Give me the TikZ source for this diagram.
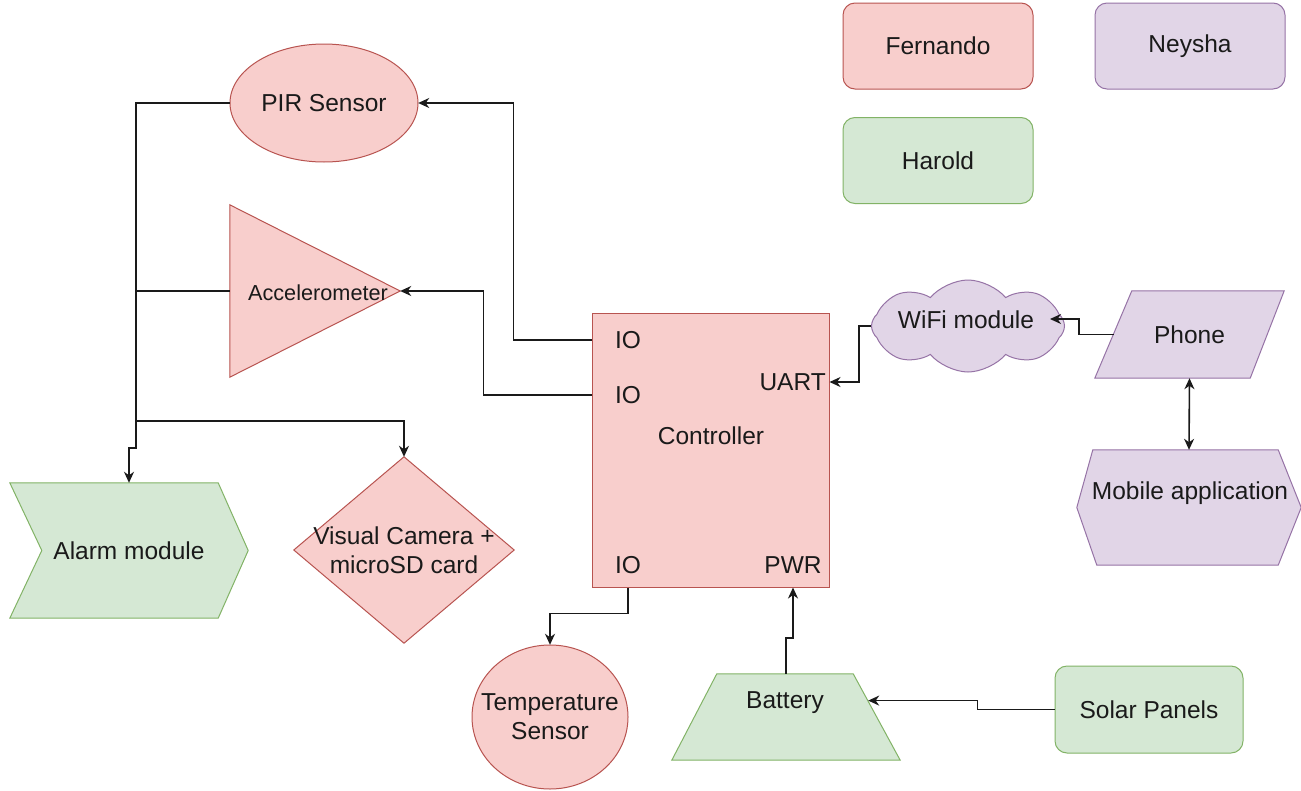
\documentclass[tikz,border=0pt]{standalone}
\usepackage{fontspec}
\setmainfont{Liberation Sans}
\usetikzlibrary{shapes.symbols,calc,arrows.meta,backgrounds}
\definecolor{rfill}{HTML}{F8CECC}
\definecolor{rline}{HTML}{B85450}
\definecolor{gfill}{HTML}{D5E8D4}
\definecolor{gline}{HTML}{82B366}
\definecolor{pfill}{HTML}{E1D5E7}
\definecolor{pline}{HTML}{9673A6}
\definecolor{ink}{HTML}{1A1A1A}
\begin{document}
\begin{tikzpicture}[x=1pt,y=-1pt,
  every node/.style={font=\fontsize{24.5}{29}\selectfont, text=ink, inner sep=0pt},
  redc/.style={fill=rfill, draw=rline, line width=1pt},
  grnc/.style={fill=gfill, draw=gline, line width=1pt},
  purc/.style={fill=pfill, draw=pline, line width=1pt},
  legend/.style={rectangle, rounded corners=12pt, minimum width=190pt, minimum height=86pt},
  conn/.style={draw=ink, line width=1.6pt},
  arr/.style={conn, -{Stealth[length=11pt,width=10pt,inset=3.5pt]}},
  darr/.style={conn, {Stealth[length=11pt,width=10pt,inset=3.5pt]}-{Stealth[length=11pt,width=10pt,inset=3.5pt]}},
]
\useasboundingbox (0,0) rectangle (1301,790);
\begin{scope}[on background layer]
  \fill[white] (0,0) rectangle (1301,790);
\end{scope}

% legend
\node[legend, redc] (fern) at (938,46) {Fernando};
\node[legend, purc] (neys) at (1190,46) {Neysha};
\node[legend, grnc] (harold) at (938,160.5) {Harold};

% controller
\node[rectangle, redc, minimum width=237pt, minimum height=274pt] (ctrl) at (710.5,450) {};
\node (ctrlt) at (711,436) {Controller};
\node (io1) at (628,340) {IO};
\node (io2) at (628,395) {IO};
\node (io3) at (628,565) {IO};
\node[anchor=east] (uart) at (826,382) {UART};
\node (pwr) at (793,565) {PWR};

% left side
\node[minimum width=188pt, minimum height=118pt] (pir) at (324,103) {PIR Sensor};
\node[minimum width=170pt, minimum height=172pt] (acc) at (315,291) {};
\node (acct) at (318,293) [font=\fontsize{21.7}{26}\selectfont] {Accelerometer};
\node[minimum width=238pt, minimum height=135pt] (alarm) at (129,550.5) {Alarm module};
\node[minimum width=220pt, minimum height=186pt, align=center] (cam) at (404,550) {Visual Camera +\\microSD card};
\node[minimum width=156pt, minimum height=144pt, align=center] (temp) at (550,717) {Temperature\\Sensor};

% bottom
\node[minimum width=228pt, minimum height=86pt] (bat) at (786,717) {};
\node (batt) at (785,703) {Battery};
\node[legend, grnc, minimum width=188pt, minimum height=87pt] (solar) at (1149,709.5) {Solar Panels};

% right side
\node[minimum width=189pt, minimum height=87pt] (phone) at (1189.5,334.5) {Phone};
\node[minimum width=224pt, minimum height=115pt] (mob) at (1189,507.5) {};
\node (mobt) at (1190,493) {Mobile application};
\node[cloud, cloud puffs=8, cloud puff arc=100, aspect=2, purc, minimum width=193pt, minimum height=92pt] (wifi) at (968,326) {};
\node (wifit) at (966,320) {WiFi module};

% drawn outlines
\begin{scope}[on background layer]
  \filldraw[redc] (pir.center) ellipse [x radius=94, y radius=59];
  \filldraw[redc] (acc.north west) -- (acc.south west) -- (acc.east) -- cycle;
  \filldraw[grnc] (alarm.north west) -- ($(alarm.north east)+(-30,0)$) -- (alarm.east)
     -- ($(alarm.south east)+(-30,0)$) -- (alarm.south west) -- ($(alarm.west)+(32,0)$) -- cycle;
  \filldraw[redc] (cam.north) -- (cam.east) -- (cam.south) -- (cam.west) -- cycle;
  \filldraw[redc] (temp.center) ellipse [x radius=78, y radius=72];
  \filldraw[grnc] ($(bat.north west)+(45,0)$) -- ($(bat.north east)+(-47,0)$) -- (bat.south east) -- (bat.south west) -- cycle;
  \filldraw[purc] ($(phone.north west)+(37,0)$) -- (phone.north east) -- ($(phone.south east)+(-34,0)$) -- (phone.south west) -- cycle;
  \filldraw[purc] ($(mob.north west)+(16,0)$) -- ($(mob.north east)+(-23,0)$) -- (mob.east)
     -- ($(mob.south east)+(-23,0)$) -- ($(mob.south west)+(20,0)$) -- (mob.west) -- cycle;
\end{scope}

% helper points
\coordinate (bus) at (136,421);
\coordinate (batR) at ($(bat.north east)!0.31!(bat.south east)+(-32,0)$);
\coordinate (wifiE) at ($(wifi.east)+(-15,-7)$);
\coordinate (phoneW) at ($(phone.west)+(19,0)$);

% connectors
\draw[arr] (ctrl.west |- io1) -- ++(-78,0) |- (pir.east);
\draw[arr] (ctrl.west |- io2) -- ++(-108,0) |- (acc.east);
\draw[arr] (pir.west) -| ($(pir.west)+(-94,345)$) -| (alarm.north);
\draw[conn] (acc.west) -- (acc.west -| bus);
\draw[arr] (bus) -| (cam.north);
\draw[arr] (wifi.west) -- ++(-12,0) |- (ctrl.east |- uart);
\draw[arr] (phoneW) -- ++(-35,0) |- (wifiE);
\draw[darr] (phone.south) -- (mob.north);
\draw[arr] (ctrl.south -| io3) -- ++(0,26) -| (temp.north);
\draw[arr] (bat.north) -- ++(0,-36) -| (ctrl.south -| pwr);
\draw[arr] (solar.west) -- ++(-77,0) |- (batR);
\end{tikzpicture}
\end{document}
